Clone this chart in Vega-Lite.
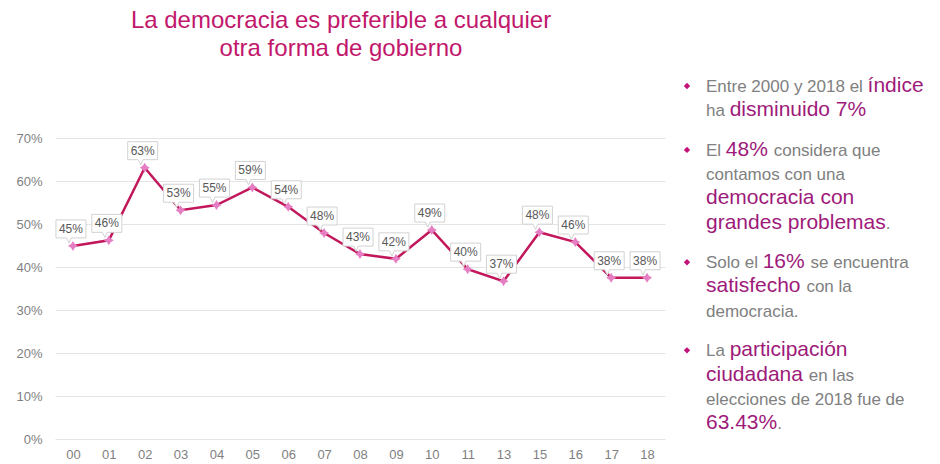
{
  "$schema": "https://vega.github.io/schema/vega-lite/v6.json",
  "background": "white",
  "padding": {"left": 0, "top": 9, "right": 0, "bottom": 0},
  "config": {"view": {"stroke": null}, "font": "Liberation Sans"},
  "width": 610,
  "height": 301,
  "title": {
    "text": ["La democracia es preferible a cualquier", "otra forma de gobierno"],
    "fontSize": 24,
    "fontWeight": "normal",
    "color": "#c1176c",
    "font": "Liberation Sans",
    "lineHeight": 28,
    "anchor": "middle",
    "frame": "group",
    "offset": 14,
    "dx": -19
  },
  "resolve": {"scale": {"x": "independent", "y": "independent"}},
  "layer": [
    {
      "data": {
        "values": [
          {"year": "00", "value": 0.449, "label": "45%"},
          {"year": "01", "value": 0.462, "label": "46%"},
          {"year": "02", "value": 0.631, "label": "63%"},
          {"year": "03", "value": 0.532, "label": "53%"},
          {"year": "04", "value": 0.544, "label": "55%"},
          {"year": "05", "value": 0.585, "label": "59%"},
          {"year": "06", "value": 0.540, "label": "54%"},
          {"year": "07", "value": 0.479, "label": "48%"},
          {"year": "08", "value": 0.430, "label": "43%"},
          {"year": "09", "value": 0.419, "label": "42%"},
          {"year": "10", "value": 0.486, "label": "49%"},
          {"year": "11", "value": 0.395, "label": "40%"},
          {"year": "13", "value": 0.367, "label": "37%"},
          {"year": "15", "value": 0.481, "label": "48%"},
          {"year": "16", "value": 0.458, "label": "46%"},
          {"year": "17", "value": 0.375, "label": "38%"},
          {"year": "18", "value": 0.375, "label": "38%"}
        ]
      },
      "encoding": {
        "x": {
          "field": "year",
          "type": "ordinal",
          "sort": null,
          "scale": {"type": "point", "padding": 0.5},
          "axis": {
            "labelAngle": 0,
            "labelColor": "#7f7f7f",
            "labelFontSize": 13,
            "labelPadding": 9,
            "ticks": false,
            "domain": false,
            "grid": false,
            "title": "Elaboración propia con datos 2018 de Latinobarómetro",
            "titleAnchor": "start",
            "titleAlign": "left",
            "titleBaseline": "middle",
            "titleX": -28,
            "titleY": 38,
            "titleFontSize": 12,
            "titleFontWeight": "normal",
            "titleColor": "#44546a"
          }
        },
        "y": {
          "field": "value",
          "type": "quantitative",
          "scale": {"domain": [0, 0.7], "nice": false, "zero": true},
          "axis": {
            "values": [0, 0.1, 0.2, 0.3, 0.4, 0.5, 0.6, 0.7],
            "format": ".0%",
            "labelColor": "#7f7f7f",
            "labelFontSize": 13,
            "labelPadding": 13,
            "ticks": false,
            "domain": false,
            "grid": true,
            "gridColor": "#e4e4e4",
            "gridWidth": 1,
            "title": null,
            "minExtent": 55,
            "maxExtent": 55
          }
        }
      },
      "layer": [
        {"mark": {"type": "line", "color": "#c2185b", "strokeWidth": 2.5}, "encoding": {}},
        {
          "mark": {
            "type": "point",
            "shape": "M-1,-0.6L1,-0.6L1,0.6L0.02,0.6L-0.12,0.95L-0.3,0.6L-1,0.6Z",
            "size": 900,
            "filled": true,
            "fill": "white",
            "stroke": "#d2d2d2",
            "strokeWidth": 1,
            "opacity": 1,
            "xOffset": -2,
            "yOffset": -17
          },
          "encoding": {}
        },
        {
          "mark": {
            "type": "point",
            "shape": "M0,-1L0.38,-0.38L1,0L0.38,0.38L0,1L-0.38,0.38L-1,0L-0.38,-0.38Z",
            "size": 100,
            "filled": true,
            "color": "#e67ec4",
            "opacity": 1
          },
          "encoding": {}
        },
        {
          "mark": {
            "type": "text",
            "dx": -2,
            "dy": -17,
            "fontSize": 12,
            "color": "#595959",
            "baseline": "middle",
            "align": "center"
          },
          "encoding": {"text": {"field": "label"}}
        }
      ]
    },
    {
      "data": {
        "values": [
          {"para": 1, "line": 1, "kind": "n", "text": "Entre 2000 y 2018 el ", "pre_n": "", "pre_e": ""},
          {"para": 1, "line": 1, "kind": "e", "text": "índice", "pre_n": "Entre 2000 y 2018 el ", "pre_e": ""},
          {"para": 1, "line": 2, "kind": "n", "text": "ha ", "pre_n": "", "pre_e": ""},
          {"para": 1, "line": 2, "kind": "e", "text": "disminuido 7%", "pre_n": "ha ", "pre_e": ""},
          {"para": 2, "line": 3, "kind": "n", "text": "El ", "pre_n": "", "pre_e": ""},
          {"para": 2, "line": 3, "kind": "e", "text": "48% ", "pre_n": "El ", "pre_e": ""},
          {"para": 2, "line": 3, "kind": "n", "text": "considera que", "pre_n": "El ", "pre_e": "48% "},
          {"para": 2, "line": 4, "kind": "n", "text": "contamos con una", "pre_n": "", "pre_e": ""},
          {"para": 2, "line": 5, "kind": "e", "text": "democracia con", "pre_n": "", "pre_e": ""},
          {"para": 2, "line": 6, "kind": "e", "text": "grandes problemas", "pre_n": "", "pre_e": ""},
          {"para": 2, "line": 6, "kind": "n", "text": ".", "pre_n": "", "pre_e": "grandes problemas"},
          {"para": 3, "line": 7, "kind": "n", "text": "Solo el ", "pre_n": "", "pre_e": ""},
          {"para": 3, "line": 7, "kind": "e", "text": "16% ", "pre_n": "Solo el ", "pre_e": ""},
          {"para": 3, "line": 7, "kind": "n", "text": "se encuentra", "pre_n": "Solo el ", "pre_e": "16% "},
          {"para": 3, "line": 8, "kind": "e", "text": "satisfecho ", "pre_n": "", "pre_e": ""},
          {"para": 3, "line": 8, "kind": "n", "text": "con la", "pre_n": "", "pre_e": "satisfecho "},
          {"para": 3, "line": 9, "kind": "n", "text": "democracia.", "pre_n": "", "pre_e": ""},
          {"para": 4, "line": 10, "kind": "n", "text": "La ", "pre_n": "", "pre_e": ""},
          {"para": 4, "line": 10, "kind": "e", "text": "participación", "pre_n": "La ", "pre_e": ""},
          {"para": 4, "line": 11, "kind": "e", "text": "ciudadana ", "pre_n": "", "pre_e": ""},
          {"para": 4, "line": 11, "kind": "n", "text": "en las", "pre_n": "", "pre_e": "ciudadana "},
          {"para": 4, "line": 12, "kind": "n", "text": "elecciones de 2018 fue de", "pre_n": "", "pre_e": ""},
          {"para": 4, "line": 13, "kind": "e", "text": "63.43%", "pre_n": "", "pre_e": ""},
          {"para": 4, "line": 13, "kind": "n", "text": ".", "pre_n": "", "pre_e": "63.43%"},
          {"para": 1, "line": 1, "kind": "b", "text": "", "pre_n": "", "pre_e": ""},
          {"para": 2, "line": 3, "kind": "b", "text": "", "pre_n": "", "pre_e": ""},
          {"para": 3, "line": 7, "kind": "b", "text": "", "pre_n": "", "pre_e": ""},
          {"para": 4, "line": 10, "kind": "b", "text": "", "pre_n": "", "pre_e": ""}
        ]
      },
      "transform": [
        {
          "calculate": "0.556*length(datum.pre_n) - 0.334*(length(split(datum.pre_n,'i'))+length(split(datum.pre_n,'l'))+length(split(datum.pre_n,'í'))-3) - 0.278*(length(split(datum.pre_n,' '))+length(split(datum.pre_n,'t'))+length(split(datum.pre_n,'f'))+length(split(datum.pre_n,'.'))-4) - 0.223*(length(split(datum.pre_n,'r'))-1) - 0.056*(length(split(datum.pre_n,'c'))+length(split(datum.pre_n,'s'))+length(split(datum.pre_n,'y'))-3) + 0.277*(length(split(datum.pre_n,'m'))-1) + 0.333*(length(split(datum.pre_n,'%'))-1) + 0.11*(length(split(datum.pre_n,'E'))+length(split(datum.pre_n,'S'))-2)",
          "as": "em_n"
        },
        {
          "calculate": "0.556*length(datum.pre_e) - 0.334*(length(split(datum.pre_e,'i'))+length(split(datum.pre_e,'l'))+length(split(datum.pre_e,'í'))-3) - 0.278*(length(split(datum.pre_e,' '))+length(split(datum.pre_e,'t'))+length(split(datum.pre_e,'f'))+length(split(datum.pre_e,'.'))-4) - 0.223*(length(split(datum.pre_e,'r'))-1) - 0.056*(length(split(datum.pre_e,'c'))+length(split(datum.pre_e,'s'))+length(split(datum.pre_e,'y'))-3) + 0.277*(length(split(datum.pre_e,'m'))-1) + 0.333*(length(split(datum.pre_e,'%'))-1) + 0.11*(length(split(datum.pre_e,'E'))+length(split(datum.pre_e,'S'))-2)",
          "as": "em_e"
        },
        {"calculate": "datum.em_n * 17 + datum.em_e * 21", "as": "xoff"},
        {"calculate": "datum.line + 0.64 * (datum.para - 1)", "as": "pos"}
      ],
      "encoding": {
        "x": {"field": "xoff", "type": "quantitative", "scale": {"domain": [0, 234], "range": [651, 885], "zero": false, "nice": false}, "axis": null},
        "y": {"field": "pos", "type": "quantitative", "scale": {"domain": [1, 14.92], "range": [-46, 291], "zero": false, "nice": false}, "axis": null}
      },
      "layer": [
        {
          "transform": [{"filter": "datum.kind === 'n'"}],
          "mark": {"type": "text", "align": "left", "baseline": "alphabetic", "fontSize": 17, "color": "#808080"},
          "encoding": {"text": {"field": "text"}}
        },
        {
          "transform": [{"filter": "datum.kind === 'e'"}],
          "mark": {"type": "text", "align": "left", "baseline": "alphabetic", "fontSize": 21, "color": "#9e1a7a"},
          "encoding": {"text": {"field": "text"}}
        },
        {
          "transform": [{"filter": "datum.kind === 'b'"}],
          "mark": {"type": "point", "shape": "diamond", "size": 40, "filled": true, "color": "#c3137a", "opacity": 1, "xOffset": -19, "yOffset": -6},
          "encoding": {}
        }
      ]
    },
    {
      "data": {
        "values": [
          {"text": "Consejera Electoral en Guanajuato Mtra. Beatriz Tovar Guerrero", "page": "1"}
        ]
      },
      "layer": [
        {
          "mark": {
            "type": "rect",
            "color": {
              "gradient": "linear",
              "x1": 0, "y1": 0, "x2": 1, "y2": 0,
              "stops": [
                {"offset": 0, "color": "#ad1460"},
                {"offset": 0.3, "color": "#dc2580"},
                {"offset": 0.55, "color": "#ff3399"},
                {"offset": 0.8, "color": "#f7318f"},
                {"offset": 1, "color": "#b80f5c"}
              ]
            }
          },
          "encoding": {
            "x": {"datum": 0, "type": "quantitative", "scale": {"domain": [0, 1], "range": [-55, 885], "zero": false, "nice": false}, "axis": null},
            "x2": {"datum": 1},
            "y": {"datum": 0, "type": "quantitative", "scale": {"domain": [0, 1], "range": [355, 383], "zero": false, "nice": false}, "axis": null},
            "y2": {"datum": 1}
          }
        },
        {
          "mark": {"type": "text", "align": "left", "baseline": "middle", "color": "white", "fontSize": 13, "dx": 8},
          "encoding": {
            "x": {"datum": 0, "type": "quantitative"},
            "y": {"datum": 0.5, "type": "quantitative"},
            "text": {"field": "text"}
          }
        },
        {
          "mark": {"type": "text", "align": "right", "baseline": "middle", "color": "white", "fontSize": 13, "dx": -3},
          "encoding": {
            "x": {"datum": 1, "type": "quantitative"},
            "y": {"datum": 0.5, "type": "quantitative"},
            "text": {"field": "page"}
          }
        }
      ]
    }
  ]
}
